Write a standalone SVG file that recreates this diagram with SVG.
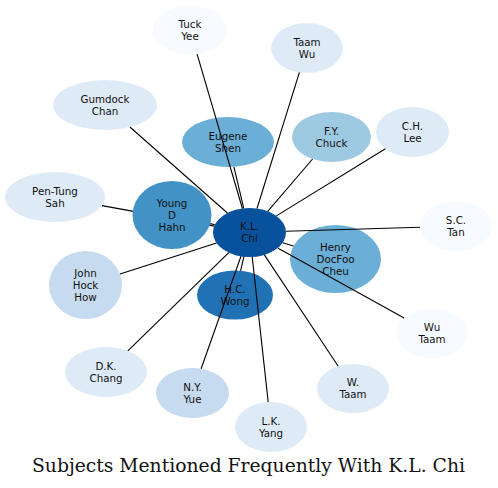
<svg xmlns="http://www.w3.org/2000/svg" width="498" height="488" viewBox="0 0 498 488">
<style>
.n text{font-family:"DejaVu Sans","Noto Sans",sans-serif;font-size:10.3px;fill:#111;text-anchor:middle}
.c1{fill:#f7fbff}.c2{fill:#deebf7}.c3{fill:#c6dbef}.c4{fill:#9ecae1}.c5{fill:#6baed6}.c6{fill:#4292c6}.c7{fill:#2171b5}.c8{fill:#08519c}
#edges line{stroke:#000;stroke-width:1.1}
.title{font-family:"DejaVu Serif","Liberation Serif",serif;font-size:18px;fill:#111;text-anchor:middle}
</style>
<rect width="498" height="488" fill="#fff"/>
<g id="node-tuck-yee" class="n"><ellipse class="c1" cx="190" cy="30" rx="37" ry="24.5"/><text x="190" y="27.5">Tuck</text><text x="190" y="39.5">Yee</text></g>
<g id="node-gumdock-chan" class="n"><ellipse class="c2" cx="105" cy="105" rx="52" ry="25"/><text x="105" y="102.5">Gumdock</text><text x="105" y="114.5">Chan</text></g>
<g id="node-eugene-shen" class="n"><ellipse class="c5" cx="228" cy="142" rx="46" ry="25"/><text x="228" y="139.5">Eugene</text><text x="228" y="151.5">Shen</text></g>
<g id="node-pen-tung-sah" class="n"><ellipse class="c2" cx="55" cy="197" rx="50" ry="25"/><text x="55" y="194.5">Pen-Tung</text><text x="55" y="206.5">Sah</text></g>
<g id="node-taam-wu" class="n"><ellipse class="c2" cx="307" cy="48" rx="36" ry="25"/><text x="307" y="45.5">Taam</text><text x="307" y="57.5">Wu</text></g>
<g id="node-fy-chuck" class="n"><ellipse class="c4" cx="331.5" cy="137" rx="39.5" ry="25"/><text x="331.5" y="134.5">F.Y.</text><text x="331.5" y="146.5">Chuck</text></g>
<g id="node-ch-lee" class="n"><ellipse class="c2" cx="412.5" cy="132" rx="36.5" ry="25"/><text x="412.5" y="129.5">C.H.</text><text x="412.5" y="141.5">Lee</text></g>
<g id="node-sc-tan" class="n"><ellipse class="c1" cx="456" cy="226" rx="36" ry="25"/><text x="456" y="223.5">S.C.</text><text x="456" y="235.5">Tan</text></g>
<g id="node-henry-docfoo-cheu" class="n"><ellipse class="c5" cx="335.5" cy="259" rx="45.5" ry="34"/><text x="335.5" y="250.5">Henry</text><text x="335.5" y="262.5">DocFoo</text><text x="335.5" y="274.5">Cheu</text></g>
<g id="node-wu-taam" class="n"><ellipse class="c1" cx="432" cy="333.5" rx="36" ry="24.5"/><text x="432" y="331">Wu</text><text x="432" y="343">Taam</text></g>
<g id="node-w-taam" class="n"><ellipse class="c2" cx="353" cy="388.5" rx="36" ry="24.5"/><text x="353" y="386">W.</text><text x="353" y="398">Taam</text></g>
<g id="node-lk-yang" class="n"><ellipse class="c2" cx="271" cy="427" rx="36" ry="25"/><text x="271" y="424.5">L.K.</text><text x="271" y="436.5">Yang</text></g>
<g id="node-ny-yue" class="n"><ellipse class="c3" cx="192.5" cy="393" rx="36.5" ry="25"/><text x="192.5" y="390.5">N.Y.</text><text x="192.5" y="402.5">Yue</text></g>
<g id="node-hc-wong" class="n"><ellipse class="c7" cx="235" cy="295" rx="38" ry="24.5"/><text x="235" y="292.5">H.C.</text><text x="235" y="304.5">Wong</text></g>
<g id="node-dk-chang" class="n"><ellipse class="c2" cx="106" cy="372" rx="41" ry="25"/><text x="106" y="369.5">D.K.</text><text x="106" y="381.5">Chang</text></g>
<g id="node-john-hock-how" class="n"><ellipse class="c3" cx="85.5" cy="285" rx="36.5" ry="34"/><text x="85.5" y="276.5">John</text><text x="85.5" y="288.5">Hock</text><text x="85.5" y="300.5">How</text></g>
<g id="node-kl-chi" class="n"><ellipse class="c8" cx="249.5" cy="232.5" rx="36.5" ry="24.5"/><text x="249.5" y="230">K.L.</text><text x="249.5" y="242">Chi</text></g>
<g id="edges">
<line x1="242.4" y1="208.5" x2="197.1" y2="54.1"/>
<line x1="227.4" y1="213" x2="129.9" y2="127"/>
<line x1="243.75" y1="208.3" x2="233.9" y2="166.8"/>
<line x1="257" y1="208.5" x2="299.4" y2="72.4"/>
<line x1="267.7" y1="211.3" x2="312.6" y2="159"/>
<line x1="276.4" y1="215.9" x2="385.4" y2="148.7"/>
<line x1="285.95" y1="231.3" x2="420" y2="227.2"/>
<line x1="282.7" y1="242.7" x2="293.4" y2="246"/>
<line x1="277.7" y1="248.1" x2="404.1" y2="318"/>
<line x1="264.4" y1="254.9" x2="338.2" y2="366.2"/>
<line x1="252.2" y1="256.9" x2="268.2" y2="402.1"/>
<line x1="241" y1="256.3" x2="201.1" y2="368.7"/>
<line x1="243.9" y1="256.7" x2="240.6" y2="270.8"/>
<line x1="228.8" y1="252.7" x2="127.8" y2="350.8"/>
<line x1="216.55" y1="243.05" x2="120" y2="274"/>
<line x1="214.9" y1="224.7" x2="210.2" y2="223.6"/>
<line x1="214.3" y1="226.1" x2="102" y2="205.6"/>
</g>
<g id="node-young-d-hahn" class="n"><ellipse class="c6" cx="172" cy="215" rx="39.5" ry="34"/><text x="172" y="206.5">Young</text><text x="172" y="218.5">D</text><text x="172" y="230.5">Hahn</text></g>
<text class="title" x="248.5" y="471.5" textLength="433" lengthAdjust="spacingAndGlyphs">Subjects Mentioned Frequently With K.L. Chi</text>
</svg>
